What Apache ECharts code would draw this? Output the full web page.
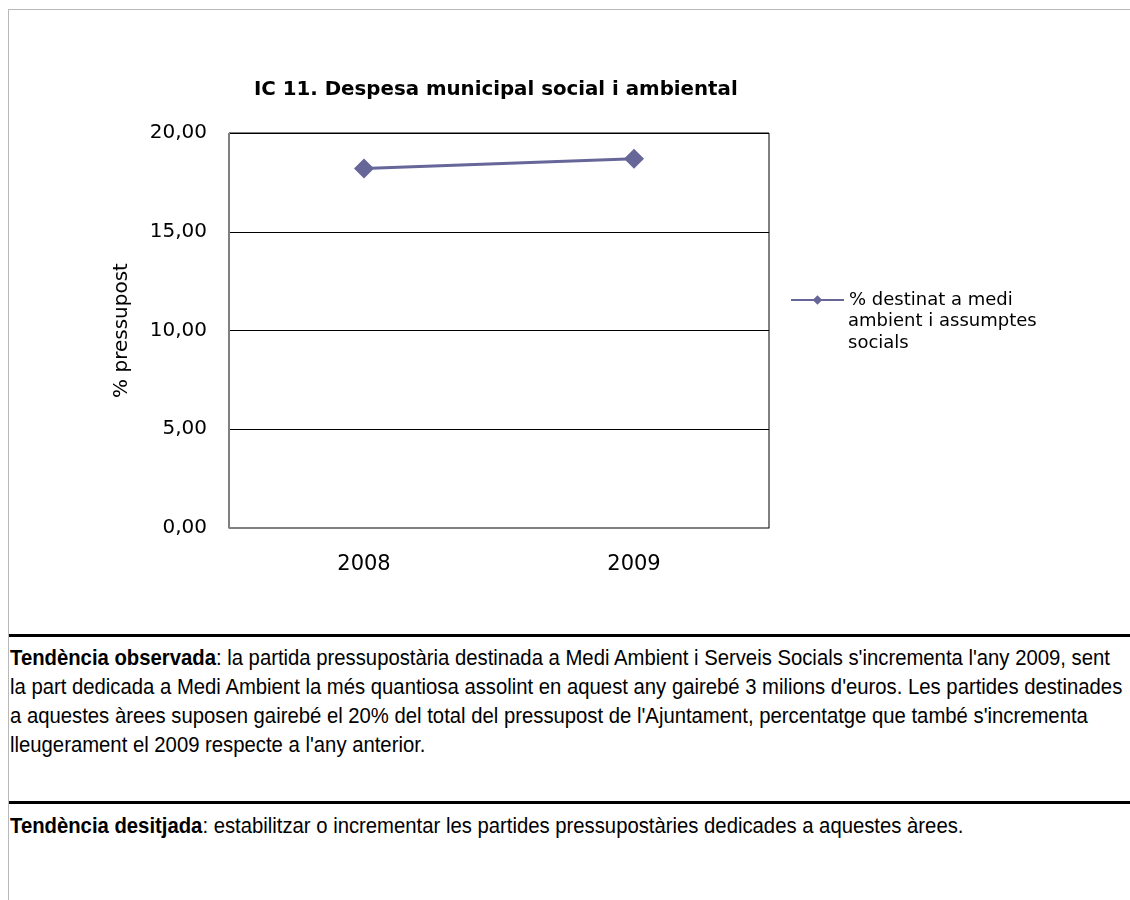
<!DOCTYPE html>
<html>
<head>
<meta charset="utf-8">
<script src="https://cdn.jsdelivr.net/npm/echarts@6/dist/echarts.min.js"></script>
<style>
  html, body { margin: 0; padding: 0; background: #fff; }
  #page { position: relative; width: 1130px; height: 900px; overflow: hidden; }
  #frame { position: absolute; left: 8px; top: 9px; width: 1130px; height: 900px;
           border-left: 1px solid #b8b8b8; border-top: 1px solid #b8b8b8; }
  #chart { position: absolute; left: 0; top: 0; width: 1130px; height: 620px; }
  .rule { position: absolute; left: 9px; width: 1121px; height: 3px; background: #000; }
  .txt { position: absolute; left: 10px; font-family: "Liberation Sans", Arial, sans-serif;
         font-size: 22px; line-height: 29px; color: #000; white-space: nowrap;
         transform: scaleX(0.922); transform-origin: 0 0; }
  .txt b { font-weight: bold; }
</style>
</head>
<body>
<div id="page">
  <div id="frame"></div>
  <div id="chart"></div>
  <div class="rule" style="top:634px"></div>
  <div class="txt" style="top:643px">
    <b>Tendència observada</b>: la partida pressupostària destinada a Medi Ambient i Serveis Socials s'incrementa l'any 2009, sent<br>
    la part dedicada a Medi Ambient la més quantiosa assolint en aquest any gairebé 3 milions d'euros. Les partides destinades<br>
    a aquestes àrees suposen gairebé el 20% del total del pressupost de l'Ajuntament, percentatge que també s'incrementa<br>
    lleugerament el 2009 respecte a l'any anterior.
  </div>
  <div class="rule" style="top:801px"></div>
  <div class="txt" style="top:811px">
    <b>Tendència desitjada</b>: estabilitzar o incrementar les partides pressupostàries dedicades a aquestes àrees.
  </div>
</div>
<script>
// dades del gràfic
var years = ['2008', '2009'];
var percentValues = [18.2, 18.7];
var seriesName = '% destinat a medi ambient i assumptes socials';
var legendLines = ['% destinat a medi', 'ambient i assumptes', 'socials'];

var chartFont = '"DejaVu Sans", sans-serif';
var legendFont = '18px "DejaVu Sans", sans-serif';

var myChart = echarts.init(document.getElementById('chart'));
var option = {
    animation: false,
    title: {
        text: 'IC 11. Despesa municipal social i ambiental',
        left: 249,
        top: 75,
        textStyle: { fontFamily: chartFont, fontSize: 19.8, fontWeight: 'bold', color: '#000' }
    },
    legend: {
        left: 785,
        top: 284,
        itemWidth: 53,
        itemHeight: 12,
        formatter: function () { return legendLines[0]; },  // la resta de línies van a graphic
        textStyle: { fontFamily: chartFont, fontSize: 18, color: '#000', lineHeight: 22 }
    },
    graphic: [
        { type: 'text', left: 848, top: 312, style: { text: legendLines[1], font: legendFont, fill: '#000' } },
        { type: 'text', left: 848, top: 334, style: { text: legendLines[2], font: legendFont, fill: '#000' } }
    ],
    grid: {
        left: 229,
        top: 133,
        width: 540,
        height: 395,
        show: true,
        borderColor: '#000',
        borderWidth: 1,
        containLabel: false
    },
    xAxis: {
        type: 'category',
        data: years,
        boundaryGap: true,
        axisLine: { lineStyle: { color: '#808080', width: 1 } },
        axisTick: { show: false },
        axisLabel: { margin: 26, fontFamily: chartFont, fontSize: 21, color: '#000' }
    },
    yAxis: {
        type: 'value',
        min: 0,
        max: 20,
        interval: 5,
        name: '% pressupost',
        nameLocation: 'middle',
        nameGap: 97,
        nameTextStyle: { fontFamily: chartFont, fontSize: 20, color: '#000' },
        axisLine: { show: true, lineStyle: { color: '#808080', width: 1 } },
        axisTick: { show: false },
        splitLine: { lineStyle: { color: '#000', width: 1 } },
        axisLabel: {
            margin: 22, fontFamily: chartFont, fontSize: 20, color: '#000',
            formatter: function (v) { return v.toFixed(2).replace('.', ','); }
        }
    },
    series: [{
        name: seriesName,
        type: 'line',
        data: percentValues,
        symbol: 'diamond',
        symbolSize: 20,
        lineStyle: { color: '#666699', width: 3 },
        itemStyle: { color: '#666699' }
    }]
};
myChart.setOption(option);
</script>
</body>
</html>
